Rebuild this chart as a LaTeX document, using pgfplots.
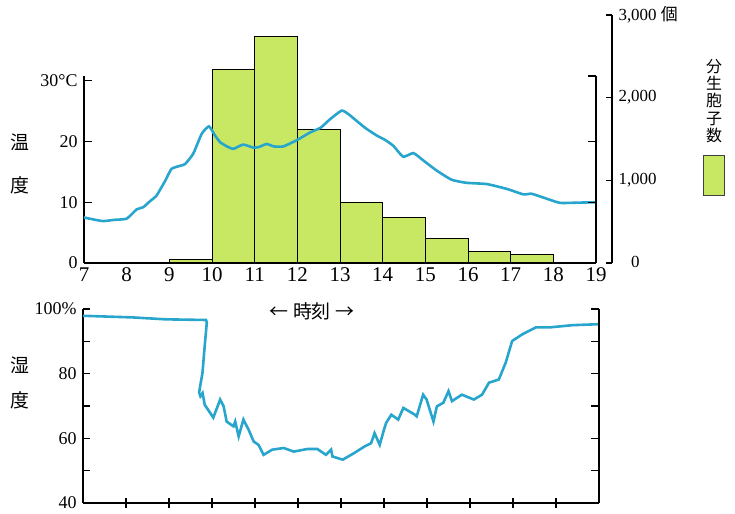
\documentclass[border=0pt]{standalone}
\usepackage{pgfplots}
\pgfplotsset{compat=1.18}
\usepackage{fontspec}
\setmainfont{Liberation Serif}
\newfontfamily\cjk{Noto Sans CJK JP}
\definecolor{curve}{RGB}{40,165,205}
\definecolor{spore}{RGB}{200,232,100}
\pgfplotsset{
  every axis/.append style={
    scale only axis, anchor=south west,
    /pgf/number format/assume math mode=true,
    axis line style={line width=1.3bp, black},
    every tick/.style={line width=1.2bp, black},
    clip=false,
  }
}
\begin{document}
\begin{tikzpicture}[x=1bp,y=1bp]
\path[use as bounding box] (0,0) rectangle (735,514);

% ---------- spore count (bars) ----------
\begin{axis}[at={(84bp,251bp)}, width=528bp, height=248bp,
  xmin=7, xmax=19.375, ymin=0, ymax=3000,
  axis x line=none, axis y line*=right,
  ytick={0,1000,2000,3000},
  yticklabels={{\phantom{1,}0\phantom{00}},{1,000},{2,000},{3,000~{\cjk 個}}},
  tick align=inside, major tick length=6bp,
  yticklabel style={anchor=west, xshift=3bp, font=\fontsize{17}{17}\selectfont}]
\addplot[ybar interval, fill=spore, draw=black, line width=0.9bp]
  coordinates {(9,40) (10,2340) (11,2735) (12,1610) (13,730) (14,555) (15,300) (16,145) (17,105) (18,0)};
\end{axis}

% ---------- temperature ----------
\begin{axis}[at={(84bp,251bp)}, width=512bp, height=187bp,
  xmin=7, xmax=19, ymin=0, ymax=30.8,
  axis x line*=bottom, axis y line*=left,
  xtick={7,...,19}, x tick style={draw=none},
  ytick={0,10,20,30}, yticklabels={0,10,20,30°C},
  tick align=inside, major tick length=8bp,
  xticklabel style={font=\fontsize{21}{21}\selectfont, yshift=-1bp},
  yticklabel style={font=\fontsize{18}{18}\selectfont, xshift=-3bp}]
\addplot[curve, line width=2.6bp, smooth, tension=0.3] coordinates {
(7.00,7.5) (7.20,7.2) (7.45,6.9) (7.70,7.1) (8.00,7.3) (8.23,8.8) (8.39,9.2)
(8.55,10.2) (8.70,11.1) (8.90,13.5) (9.05,15.5) (9.25,16.0) (9.37,16.3)
(9.56,18.0) (9.76,21.3) (9.93,22.5) (10.07,21.0) (10.19,19.9) (10.35,19.2)
(10.50,18.8) (10.73,19.5) (10.97,19.0) (11.10,19.1) (11.28,19.6) (11.45,19.2)
(11.67,19.2) (11.98,20.2) (12.30,21.5) (12.55,22.3) (12.77,23.7) (13.04,25.1)
(13.20,24.5) (13.39,23.4) (13.60,22.2) (13.86,21.0) (14.05,20.3) (14.25,19.3)
(14.48,17.5) (14.72,18.1) (14.95,16.9) (15.27,15.2) (15.62,13.7) (15.97,13.2)
(16.44,13.0) (16.91,12.2) (17.30,11.3) (17.49,11.4) (17.84,10.6) (18.16,9.9)
(18.63,9.95) (19.00,10.0)};
\end{axis}
\begin{axis}[at={(84bp,251bp)}, width=512bp, height=187bp,
  xmin=7, xmax=19, ymin=0, ymax=30.8,
  axis x line=none, axis y line*=right,
  ytick={10,20,30.8}, yticklabels={}, xtick=\empty,
  tick align=inside, major tick length=8bp]
\end{axis}

% ---------- humidity ----------
\begin{axis}[at={(83bp,11bp)}, width=516bp, height=194bp,
  xmin=7, xmax=19, ymin=40, ymax=100,
  axis x line*=bottom, axis y line*=left,
  xtick=\empty,
  ytick={40,50,...,100}, yticklabels={40,,60,,80,,100\%},
  tick align=inside, major tick length=7bp,
  yticklabel style={font=\fontsize{18}{18}\selectfont, xshift=-3bp}]
\addplot[curve, line width=2.6bp] coordinates {
(7.00,97.9) (8.15,97.4) (8.93,96.8) (9.86,96.6) (9.88,95.9) (9.86,93) (9.82,87)
(9.78,80.4) (9.70,74.2) (9.73,73.0) (9.78,74.0) (9.83,70.4) (10.03,66.4)
(10.19,72) (10.27,69.9) (10.34,65.2) (10.50,63.7) (10.54,65.2) (10.62,60.6)
(10.73,65.8) (10.85,62.7) (10.97,59) (11.08,58) (11.20,54.9) (11.40,56.5)
(11.67,57) (11.90,55.9) (12.22,56.7) (12.45,56.7) (12.65,54.9) (12.77,56.5)
(12.80,54.4) (13.04,53.4) (13.30,55.4) (13.55,57.5) (13.70,58.5) (13.78,61.6)
(13.90,58) (14.00,62.7) (14.05,64.8) (14.17,67.3) (14.33,65.8) (14.45,69.4)
(14.72,67.3) (14.76,66.8) (14.91,73.5) (14.99,72) (15.15,65.2) (15.23,69.9)
(15.38,71) (15.50,74.6) (15.58,71.5) (15.81,73.5) (16.09,72) (16.28,73.5)
(16.44,77.2) (16.67,78.2) (16.83,83.4) (16.98,90.1) (17.22,92.2) (17.53,94.3)
(17.84,94.3) (18.39,95) (19.00,95.3)};
\end{axis}
\begin{axis}[at={(83bp,11bp)}, width=516bp, height=194bp,
  xmin=7, xmax=19, ymin=40, ymax=100,
  axis x line=none, axis y line*=right,
  ytick={50,60,...,100}, yticklabels={}, xtick=\empty,
  tick align=inside, major tick length=8bp]
\end{axis}
\begin{axis}[at={(83bp,11bp)}, width=516bp, height=194bp,
  xmin=7, xmax=19, ymin=40, ymax=100,
  axis x line*=bottom, axis y line=none,
  xtick={8,...,18}, xticklabels={}, ytick=\empty,
  tick align=center, major tick length=10bp]
\end{axis}

% ---------- labels ----------
\node[font=\cjk\fontsize{19}{19}\selectfont] at (20bp,372bp) {温};
\node[font=\cjk\fontsize{19}{19}\selectfont] at (20bp,329bp) {度};
\node[font=\cjk\fontsize{19}{19}\selectfont] at (20bp,149bp) {湿};
\node[font=\cjk\fontsize{19}{19}\selectfont] at (20bp,114bp) {度};
\node[font=\cjk\fontsize{19}{19}\selectfont] at (312bp,203bp) {← 時刻 →};
\node[align=center, inner sep=0pt, font=\cjk\fontsize{16}{17.5}\selectfont] at (714bp,413bp) {分\\生\\胞\\子\\数};
\draw[fill=spore, draw=black!75, line width=0.8bp] (703bp,319bp) rectangle (724bp,359bp);
\end{tikzpicture}
\end{document}
